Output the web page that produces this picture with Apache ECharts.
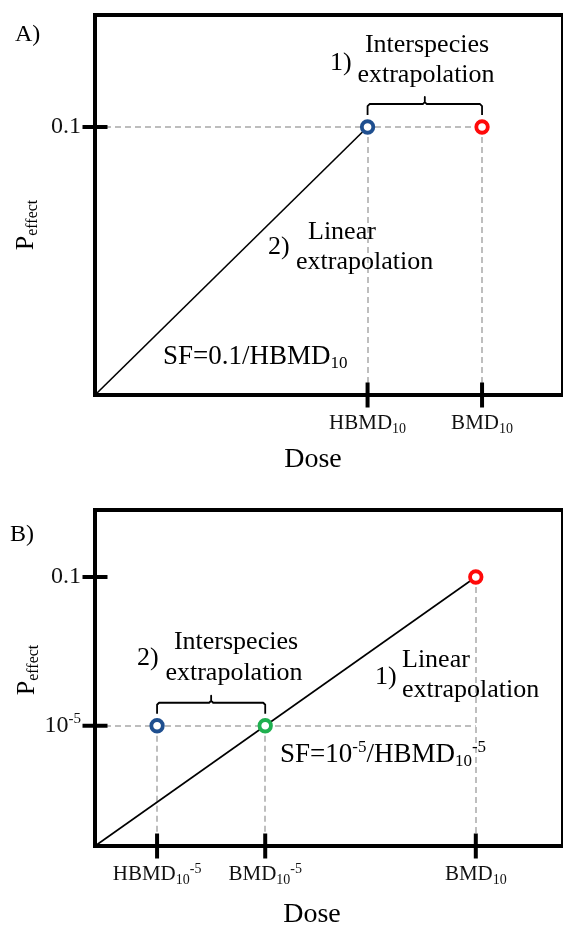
<!DOCTYPE html>
<html>
<head>
<meta charset="utf-8">
<script src="https://cdn.jsdelivr.net/npm/echarts@6/dist/echarts.min.js"></script>
<style>
  html, body { margin: 0; padding: 0; background: #fff; }
  #chart { width: 563px; height: 927px; }
</style>
</head>
<body>
<div id="chart"></div>
<script>
// ---------- Panel A: linear dose scale (HBMD10 = 1 dose unit) ----------
const doseMaxA = 1.717;
const effectMaxA = 0.1418;
const doseTicksA = [1.0, 1.42];
const doseLabelsA = ['{m|HBMD}{sub|10}', '{m|BMD}{sub|10}'];
const effectTicksA = [0.1];
const effectLabelsA = ['{m|0.1}'];
const humanPointA = [1.0, 0.1];     // HBMD10 at 10 % effect
const animalPointA = [1.42, 0.1];   // BMD10 at 10 % effect
const slopeLineA = [[0, 0], [1.0, 0.1]];
const braceA = [[1.0, 1.42, 0.1]];

// ---------- Panel B: schematic scale (BMD10 = 1, effect 0.1 = 1) ----------
const doseMaxB = 1.229;
const effectMaxB = 1.249;
const doseTicksB = [0.163, 0.447, 1.0];
const doseLabelsB = ['{m|HBMD}{sub|10}{sup|-5}', '{m|BMD}{sub|10}{sup|-5}', '{m|BMD}{sub|10}'];
const effectTicksB = [0.447, 1.0];
const effectLabelsB = ['{m|10}{sup|-5}', '{m|0.1}'];
const animalPointB = [1.0, 1.0];      // BMD10
const lowDosePointB = [0.447, 0.447]; // BMD10^-5 on the linear line
const humanPointB = [0.163, 0.447];   // HBMD10^-5
const slopeLineB = [[0, 0], [1.0, 1.0]];
const braceB = [[0.163, 0.447, 0.447]];

const SERIF = '"Liberation Serif", "Times New Roman", serif';
const INK = '#111';
const GUIDE = '#a8a8a8';
const BLUE = '#1f4f8f', RED = '#ff0a0a', GREEN = '#1fb04f';

function rich(main, small) {
  return {
    m:   { fontFamily: SERIF, fontSize: main,  lineHeight: main + 4, color: INK },
    sub: { fontFamily: SERIF, fontSize: small, lineHeight: small, verticalAlign: 'bottom', color: INK },
    sup: { fontFamily: SERIF, fontSize: small, lineHeight: small, verticalAlign: 'top', color: INK }
  };
}

function lookup(ticks, labels) {
  return v => {
    const i = ticks.findIndex(t => Math.abs(t - v) < 1e-9);
    return i >= 0 ? labels[i] : '';
  };
}

function xAxisFor(gi, max, ticks, labels) {
  return {
    type: 'value', gridIndex: gi, min: 0, max: max,
    axisLine: { show: false }, axisTick: { show: false }, splitLine: { show: false },
    axisLabel: { customValues: ticks, formatter: lookup(ticks, labels), margin: 16, rich: rich(21, 14) }
  };
}
function yAxisFor(gi, max, ticks, labels) {
  return {
    type: 'value', gridIndex: gi, min: 0, max: max,
    axisLine: { show: false }, axisTick: { show: false }, splitLine: { show: false },
    axisLabel: { customValues: ticks, formatter: lookup(ticks, labels), margin: 14, rich: rich(24, 15) }
  };
}

// dashed guides: horizontal from the axis to the farthest point, vertical down to the dose axis
function guideSeries(gi, points) {
  const data = [];
  const y = points[0][1];
  const xFar = Math.max(...points.map(p => p[0]));
  data.push({ coords: [[0, y], [xFar, y]] });
  points.forEach(p => data.push({ coords: [[p[0], p[1]], [p[0], 0]] }));
  return {
    type: 'lines', coordinateSystem: 'cartesian2d', xAxisIndex: gi, yAxisIndex: gi,
    z: 2, silent: true,
    lineStyle: { color: GUIDE, width: 1.5, type: [6, 4], opacity: 1 },
    data: data
  };
}

function slopeSeries(gi, pts) {
  return {
    type: 'line', xAxisIndex: gi, yAxisIndex: gi, data: pts, symbol: 'none', z: 3,
    lineStyle: { color: '#000', width: 1.6 }
  };
}

function braceSeries(gi, data) {
  return {
    type: 'custom', xAxisIndex: gi, yAxisIndex: gi, data: data, clip: false, z: 4,
    encode: { x: [0, 1], y: 2 },
    renderItem: (params, api) => {
      const a = api.coord([api.value(0), api.value(2)]);
      const b = api.coord([api.value(1), api.value(2)]);
      const y0 = a[1];
      const yEnd = y0 - 12, yBar = y0 - 23, yTip = y0 - 30;
      const x1 = a[0], x2 = b[0], xm = (x1 + x2) / 2;
      return {
        type: 'polyline',
        shape: { points: [
          [x1, yEnd], [x1, yBar + 2], [x1 + 2, yBar], [xm - 2, yBar], [xm, yBar - 2], [xm, yTip],
          [xm, yBar - 2], [xm + 2, yBar], [x2 - 2, yBar], [x2, yBar + 2], [x2, yEnd]
        ] },
        style: { stroke: '#000', lineWidth: 1.8, fill: null, lineJoin: 'round' }
      };
    }
  };
}

function pointSeries(gi, pts, colors) {
  return {
    type: 'scatter', xAxisIndex: gi, yAxisIndex: gi, z: 6, clip: false,
    symbol: 'circle', symbolSize: 11.5,
    data: pts.map((p, i) => ({
      value: p,
      itemStyle: { color: '#fff', borderColor: colors[i], borderWidth: 3.8, opacity: 1 }
    }))
  };
}

// bold tick marks crossing the frame
function tickSeries(gi, xTicks, yTicks) {
  return [
    { type: 'scatter', xAxisIndex: gi, yAxisIndex: gi, z: 7, clip: false, silent: true,
      symbol: 'rect', symbolSize: [4, 25], itemStyle: { color: '#000', opacity: 1 },
      data: xTicks.map(v => [v, 0]) },
    { type: 'scatter', xAxisIndex: gi, yAxisIndex: gi, z: 7, clip: false, silent: true,
      symbol: 'rect', symbolSize: [25, 4], itemStyle: { color: '#000', opacity: 1 },
      data: yTicks.map(v => [0, v]) }
  ];
}

function txt(x, y, text, size, align, extra) {
  return Object.assign({
    type: 'text', x: x, y: y, z: 10, silent: true,
    style: {
      text: text, rich: rich(size, Math.round(size * 0.62)),
      align: align || 'left', verticalAlign: 'middle'
    }
  }, extra || {});
}

const chart = echarts.init(document.getElementById('chart'));
chart.setOption({
  animation: false,
  backgroundColor: '#fff',
  grid: [
    { left: 95, right: 0, top: 15, height: 380, show: true, borderColor: '#000', borderWidth: 4 },
    { left: 95, right: 0, top: 510, height: 336, show: true, borderColor: '#000', borderWidth: 4 }
  ],
  xAxis: [
    xAxisFor(0, doseMaxA, doseTicksA, doseLabelsA),
    xAxisFor(1, doseMaxB, doseTicksB, doseLabelsB)
  ],
  yAxis: [
    yAxisFor(0, effectMaxA, effectTicksA, effectLabelsA),
    yAxisFor(1, effectMaxB, effectTicksB, effectLabelsB)
  ],
  series: [
    guideSeries(0, [humanPointA, animalPointA]),
    slopeSeries(0, slopeLineA),
    braceSeries(0, braceA),
    pointSeries(0, [humanPointA, animalPointA], [BLUE, RED]),
    ...tickSeries(0, doseTicksA, effectTicksA),

    guideSeries(1, [humanPointB, lowDosePointB, animalPointB]),
    slopeSeries(1, slopeLineB),
    braceSeries(1, braceB),
    pointSeries(1, [humanPointB, lowDosePointB, animalPointB], [BLUE, GREEN, RED]),
    ...tickSeries(1, doseTicksB, effectTicksB)
  ],
  graphic: [
    // panel A
    txt(15, 35, '{m|A)}', 24),
    txt(330, 63, '{m|1)}', 26),
    txt(427, 45, '{m|Interspecies}', 26, 'center'),
    txt(426, 75, '{m|extrapolation}', 26, 'center'),
    txt(268, 247, '{m|2)}', 26),
    txt(308, 232, '{m|Linear}', 26),
    txt(296, 262, '{m|extrapolation}', 26),
    txt(163, 357, '{m|SF=0.1/HBMD}{sub|10}', 27),
    txt(313, 460, '{m|Dose}', 28, 'center'),
    txt(26, 225, '{m|P}{sub|effect}', 26, 'center', { rotation: Math.PI / 2 }),
    // panel B
    txt(10, 535, '{m|B)}', 24),
    txt(137, 658, '{m|2)}', 26),
    txt(236, 642, '{m|Interspecies}', 26, 'center'),
    txt(234, 673, '{m|extrapolation}', 26, 'center'),
    txt(375, 677, '{m|1)}', 26),
    txt(402, 660, '{m|Linear}', 26),
    txt(402, 690, '{m|extrapolation}', 26),
    txt(280, 755, '{m|SF=10}{sup|-5}{m|/HBMD}{sub|10}{sup|-5}', 27),
    txt(312, 915, '{m|Dose}', 28, 'center'),
    txt(27, 670, '{m|P}{sub|effect}', 26, 'center', { rotation: Math.PI / 2 })
  ]
});
</script>
</body>
</html>
